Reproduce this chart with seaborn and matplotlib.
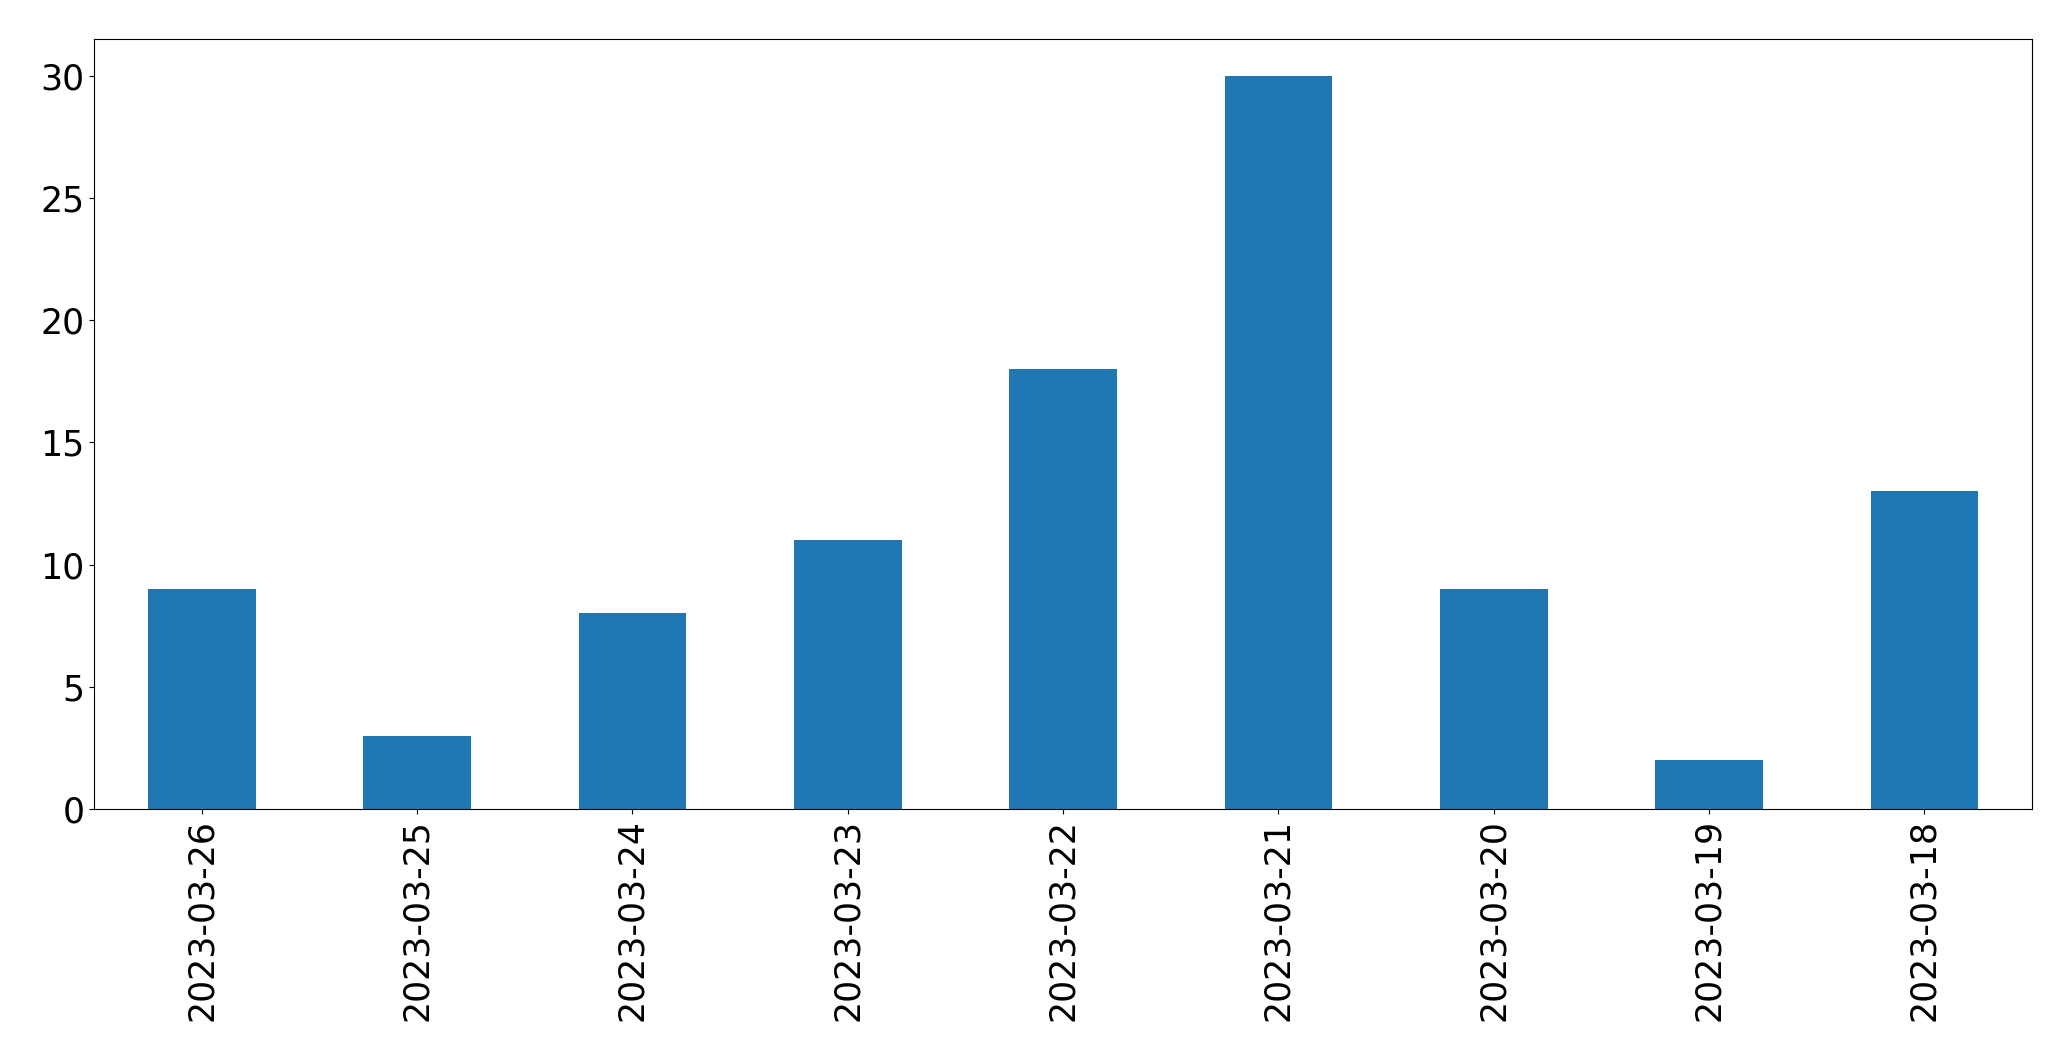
import matplotlib
matplotlib.use("Agg")
import matplotlib.pyplot as plt
import seaborn as sns

# Daily counts, newest first
dates = ["2023-03-26", "2023-03-25", "2023-03-24", "2023-03-23", "2023-03-22",
         "2023-03-21", "2023-03-20", "2023-03-19", "2023-03-18"]
counts = [9, 3, 8, 11, 18, 30, 9, 2, 13]

fig = plt.figure(figsize=(20.71, 10.61), dpi=100)
ax = fig.add_axes([0.0454, 0.2375, 0.9358, 0.7257])

sns.barplot(x=dates, y=counts, order=dates, color="#1f77b4", saturation=1,
            width=0.5, linewidth=0, ax=ax)

ax.set_xlim(-0.5, len(dates) - 0.5)
ax.set_ylim(0, max(counts) * 1.05)
ax.set_yticks([0, 5, 10, 15, 20, 25, 30])
ax.tick_params(axis="both", labelsize=25)
ax.tick_params(axis="x", labelrotation=90)
ax.set_xlabel("")
ax.set_ylabel("")
for s in ax.spines.values():
    s.set_visible(True)

fig.savefig("out.png", dpi=100)
